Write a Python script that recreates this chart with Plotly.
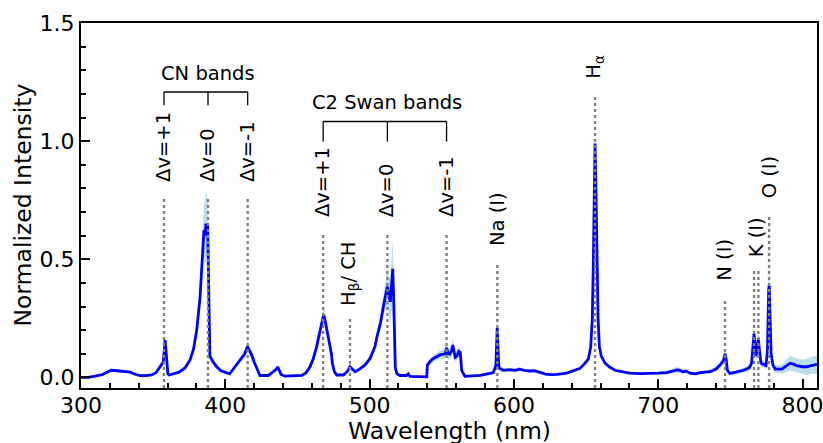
import numpy as np
import plotly.graph_objects as go

# Emission spectrum, grouped by spectral region (wavelength in nm)
wavelength_nm = [
    300, 305, 310, 315, 318, 321, 325, 330, 334, 338, 341, 345, 349, 352,
    354.5, 356, 357, 357.8, 358.3, 358.8, 359.4, 360.2, 361, 364,
    368, 372, 375.5, 378, 380.2, 382.5, 384.3, 385.2, 385.9, 386.6, 387.2, 387.8, 388.3, 388.8, 389.3, 391.5, 394, 397,
    401, 403, 406.7, 411.3, 413.5, 415.3, 416.5, 418.3, 420, 421.8, 424, 429.8, 433.3, 435.5, 436.3, 437.2, 438.6, 441.4,
    448, 453, 456, 458.7, 461, 463.3, 465, 466.3, 467.5, 468.2, 469.2, 470.3, 471.5, 472.6, 473.5, 474.2, 475.5, 477.2,
    481.8, 484.5, 486.4, 488, 489.9, 493, 496.8, 500.3,
    503.7, 505, 507.5, 509.5, 511, 512.3, 513.3, 514.3, 515.3, 516, 516.6, 517, 517.8, 519, 521, 525.5, 526.8, 528, 535, 539.6,
    540, 542, 544.2, 546.5, 548.8, 551, 552.3, 553.4, 554.3, 555.5, 557, 557.6, 558.3, 559.3, 560.5, 561.8, 562.8, 563.8, 566, 570,
    576.5, 581, 585.7, 587.5, 588.4, 589, 589.6, 592.7, 597, 601, 604, 607, 611, 614, 618, 622, 625, 630, 636.6,
    641, 645.8, 649.3, 651.6, 653.2, 654.3, 655, 655.5, 656.2, 656.9, 657.6, 658.3, 659.2, 660.5, 663.1, 666, 670, 673.5, 680, 687.4,
    695, 700, 705.9, 710, 713, 715, 717, 719.6, 722, 726, 729, 735.9, 740, 742.8, 745.1, 746.3, 747, 747.9, 749.7,
    754, 759, 763, 764.7, 765.6, 766.4, 767.1, 767.7, 768.5, 769.3, 770.2, 771.2, 774.7, 775.7, 776.5, 776.9, 777.5, 778.2, 779.5, 781,
    785.6, 788, 791.4, 794, 796, 800, 803, 806, 810,
]

intensity = [
    0.000, 0.000, 0.005, 0.012, 0.022, 0.030, 0.028, 0.026, 0.022, 0.012, 0.007, 0.007, 0.010, 0.020,
    0.040, 0.055, 0.065, 0.120, 0.158, 0.120, 0.060, 0.015, 0.010, 0.015,
    0.022, 0.040, 0.073, 0.120, 0.200, 0.340, 0.550, 0.623, 0.600, 0.650, 0.640, 0.640, 0.450, 0.200, 0.090, 0.066, 0.045, 0.028,
    0.018, 0.015, 0.045, 0.080, 0.100, 0.130, 0.115, 0.095, 0.065, 0.038, 0.008, 0.008, 0.024, 0.035, 0.045, 0.030, 0.012, 0.005,
    0.006, 0.008, 0.020, 0.045, 0.080, 0.130, 0.180, 0.215, 0.255, 0.265, 0.240, 0.205, 0.175, 0.145, 0.100, 0.060, 0.025, 0.010,
    0.010, 0.025, 0.045, 0.035, 0.024, 0.035, 0.052, 0.080,
    0.130, 0.170, 0.230, 0.300, 0.345, 0.384, 0.350, 0.320, 0.400, 0.460, 0.350, 0.200, 0.040, 0.015, 0.008, 0.008, 0.015, 0.004, 0.002, 0.002,
    0.052, 0.068, 0.080, 0.088, 0.095, 0.098, 0.100, 0.125, 0.100, 0.098, 0.115, 0.137, 0.110, 0.085, 0.090, 0.110, 0.105, 0.030, 0.004, 0.005,
    0.008, 0.014, 0.020, 0.050, 0.210, 0.120, 0.040, 0.030, 0.033, 0.030, 0.035, 0.030, 0.027, 0.028, 0.020, 0.014, 0.012, 0.013, 0.018,
    0.026, 0.038, 0.060, 0.078, 0.130, 0.250, 0.480, 0.770, 0.990, 0.770, 0.480, 0.250, 0.130, 0.090, 0.060, 0.045, 0.030, 0.026, 0.018, 0.016,
    0.016, 0.018, 0.020, 0.028, 0.032, 0.030, 0.024, 0.026, 0.018, 0.015, 0.020, 0.024, 0.035, 0.052, 0.070, 0.100, 0.080, 0.030, 0.017,
    0.022, 0.030, 0.040, 0.060, 0.130, 0.185, 0.130, 0.090, 0.120, 0.165, 0.110, 0.060, 0.050, 0.120, 0.370, 0.390, 0.250, 0.100, 0.050, 0.035,
    0.035, 0.045, 0.060, 0.055, 0.050, 0.045, 0.045, 0.050, 0.055,
]

# Half-width of the shaded spread around the mean spectrum
spread = [
    0.004, 0.004, 0.004, 0.005, 0.006, 0.006, 0.006, 0.006, 0.005, 0.004, 0.004, 0.004, 0.004, 0.005,
    0.008, 0.010, 0.012, 0.020, 0.020, 0.018, 0.012, 0.006, 0.005, 0.005,
    0.005, 0.006, 0.008, 0.012, 0.018, 0.030, 0.060, 0.110, 0.140, 0.140, 0.130, 0.120, 0.080, 0.040, 0.020, 0.012, 0.010, 0.008,
    0.005, 0.005, 0.008, 0.012, 0.015, 0.020, 0.018, 0.015, 0.010, 0.008, 0.005, 0.005, 0.006, 0.006, 0.006, 0.006, 0.005, 0.005,
    0.005, 0.006, 0.010, 0.015, 0.015, 0.018, 0.022, 0.030, 0.035, 0.035, 0.030, 0.025, 0.020, 0.015, 0.012, 0.010, 0.006, 0.005,
    0.005, 0.006, 0.008, 0.006, 0.006, 0.008, 0.010, 0.012,
    0.015, 0.020, 0.030, 0.040, 0.060, 0.080, 0.080, 0.090, 0.110, 0.120, 0.100, 0.060, 0.015, 0.006, 0.005, 0.005, 0.006, 0.004, 0.004, 0.004,
    0.010, 0.012, 0.015, 0.015, 0.018, 0.020, 0.022, 0.030, 0.025, 0.022, 0.025, 0.030, 0.022, 0.018, 0.018, 0.020, 0.018, 0.008, 0.004, 0.004,
    0.005, 0.005, 0.006, 0.015, 0.060, 0.040, 0.010, 0.008, 0.008, 0.008, 0.008, 0.007, 0.006, 0.006, 0.005, 0.005, 0.005, 0.005, 0.005,
    0.005, 0.006, 0.008, 0.010, 0.012, 0.015, 0.015, 0.015, 0.015, 0.015, 0.015, 0.012, 0.010, 0.008, 0.008, 0.006, 0.006, 0.005, 0.005, 0.005,
    0.006, 0.006, 0.008, 0.010, 0.012, 0.010, 0.008, 0.008, 0.006, 0.006, 0.006, 0.008, 0.010, 0.012, 0.015, 0.020, 0.015, 0.010, 0.008,
    0.008, 0.010, 0.012, 0.015, 0.030, 0.040, 0.030, 0.025, 0.030, 0.035, 0.025, 0.015, 0.015, 0.030, 0.080, 0.090, 0.060, 0.025, 0.015, 0.015,
    0.020, 0.025, 0.030, 0.030, 0.030, 0.030, 0.035, 0.035, 0.040,
]

# Line identifications: label, wavelength(s), top of dotted marker, bottom of label
line_labels = ["Δv=+1", "Δv=0", "Δv=-1",
               "Δv=+1", "Δv=0", "Δv=-1",
               "H<sub>β</sub>/ CH", "Na (I)", "H<sub>α</sub>",
               "N (I)", "K (I)", "O (I)"]
line_positions = [[357.5], [388.0], [415.5],
                  [467.8], [512.3], [553.3],
                  [486.4], [588.5], [656.2],
                  [746.3], [766.4, 769.4], [776.8]]
marker_tops = [0.755, 0.755, 0.755,
               0.603, 0.603, 0.603,
               0.251, 0.486, 1.196,
               0.336, 0.452, 0.688]
label_bottoms = [0.823, 0.823, 0.823,
                 0.675, 0.675, 0.675,
                 0.298, 0.553, 1.26,
                 0.405, 0.505, 0.752]

# Molecular band groups: title, bracket feet, bracket height, foot bottom, title centre height
band_titles = ["CN bands", "C2 Swan bands"]
band_feet = [[357.5, 388.0, 415.5], [467.8, 512.3, 553.3]]
bracket_tops = [1.208, 1.083]
bracket_bottoms = [1.152, 0.998]
band_title_y = [1.285, 1.164]

FONT = "DejaVu Sans"

wl = np.array(wavelength_nm)
mean = np.array(intensity)
sd = np.array(spread)
assert len(wl) == len(mean) == len(sd)

fig = go.Figure()

# shaded spread
fig.add_trace(go.Scatter(
    x=np.concatenate([wl, wl[::-1]]),
    y=np.concatenate([mean + sd, (mean - sd)[::-1]]),
    fill="toself", fillcolor="rgba(173,216,230,0.85)",
    line=dict(width=0), hoverinfo="skip", showlegend=False,
))
# mean spectrum
fig.add_trace(go.Scatter(
    x=wl, y=mean, mode="lines",
    line=dict(color="#0000ff", width=2.8), showlegend=False,
))

annotations = []
shapes = []

for label, xs, top, bottom in zip(line_labels, line_positions, marker_tops, label_bottoms):
    for x in xs:
        shapes.append(dict(type="line", xref="x", yref="y", x0=x, x1=x, y0=-0.045, y1=top,
                           line=dict(color="#808080", width=2.4, dash="3px,3px")))
    annotations.append(dict(
        x=float(np.mean(xs)), y=bottom, xref="x", yref="y", text=label,
        textangle=-90, showarrow=False, xanchor="center", yanchor="bottom",
        font=dict(family=FONT, size=19.5, color="black"), borderpad=0,
    ))

for title, feet, top, bottom, ty in zip(band_titles, band_feet, bracket_tops, bracket_bottoms, band_title_y):
    shapes.append(dict(type="line", xref="x", yref="y", x0=feet[0], x1=feet[-1], y0=top, y1=top,
                       line=dict(color="black", width=1.3)))
    for x in feet:
        shapes.append(dict(type="line", xref="x", yref="y", x0=x, x1=x, y0=bottom, y1=top,
                           line=dict(color="black", width=1.3)))
    annotations.append(dict(
        x=feet[1], y=ty, xref="x", yref="y", text=title, showarrow=False,
        xanchor="center", yanchor="middle",
        font=dict(family=FONT, size=19.5, color="black"),
    ))

# axis titles
annotations.append(dict(
    x=0.5, y=-0.118, xref="paper", yref="paper", text="Wavelength (nm)", showarrow=False,
    xanchor="center", yanchor="middle", font=dict(family=FONT, size=23.5, color="black"),
))
annotations.append(dict(
    x=-0.080, y=0.5, xref="paper", yref="paper", text="Normalized Intensity", showarrow=False,
    textangle=-90, xanchor="center", yanchor="middle",
    font=dict(family=FONT, size=23.5, color="black"),
))

axis_common = dict(
    showline=True, linecolor="black", linewidth=2.2, mirror=True,
    ticks="inside", ticklen=9, tickwidth=2, tickcolor="black",
    showgrid=False, zeroline=False, automargin=False,
    ticklabeloverflow="allow",
    tickfont=dict(family=FONT, size=22, color="black"),
)

fig.update_xaxes(
    range=[300, 810], dtick=100, tick0=0, ticklabelstandoff=-4,
    minor=dict(dtick=20, tick0=0, ticks="inside", ticklen=5, tickwidth=2, tickcolor="black"),
    **axis_common,
)
fig.update_yaxes(
    range=[-0.045, 1.5], tickvals=[0, 0.5, 1.0, 1.5], tickformat=".1f",
    minor=dict(dtick=0.1, tick0=0, ticks="inside", ticklen=5, tickwidth=2, tickcolor="black"),
    **axis_common,
)

fig.update_layout(
    width=823, height=443,
    margin=dict(l=81, r=6, t=23, b=55),
    paper_bgcolor="white", plot_bgcolor="white",
    shapes=shapes, annotations=annotations,
    font=dict(family=FONT),
)

fig.write_html("out.html")
